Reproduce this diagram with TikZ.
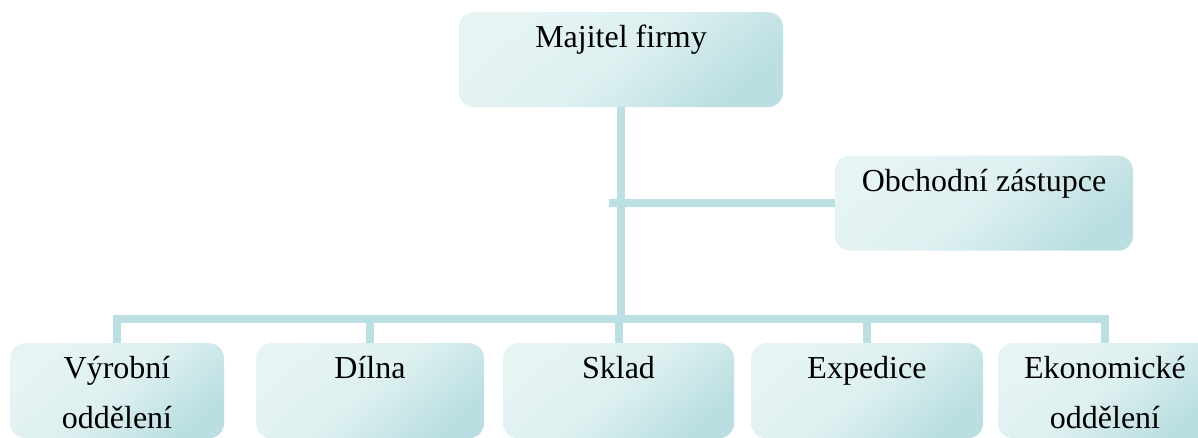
\documentclass[tikz,border=0pt]{standalone}
\usepackage{fontspec}
\setmainfont{Liberation Serif}
\definecolor{lineC}{HTML}{BBDFE2}
\definecolor{boxL}{HTML}{E6F4F4}
\definecolor{boxD}{HTML}{BADEE1}
\tikzset{
  orgbox/.style={rounded corners=15pt, top color=boxL, bottom color=boxD, middle color=boxL!80!boxD,
    shading angle=40, inner sep=0pt, minimum height=95pt, anchor=north},
  lab/.style={anchor=base, inner sep=0pt, align=center, font=\fontsize{32}{50}\selectfont},
  conn/.style={draw=lineC, line width=8pt, line join=miter}
}
\begin{document}
\begin{tikzpicture}[x=1pt,y=-1pt]
\useasboundingbox (0,0) rectangle (1198,438);
\clip (0,0) rectangle (1198,438);
% boxes
\node[orgbox, minimum width=324pt] (top) at (621,12) {};
\node[orgbox, minimum width=298pt] (obch) at (984,155.5) {};
\node[orgbox, minimum width=214pt] (c1) at (117,343) {};
\node[orgbox, minimum width=228pt] (c2) at (370,343) {};
\node[orgbox, minimum width=231pt] (c3) at (618.5,343) {};
\node[orgbox, minimum width=232pt] (c4) at (867,343) {};
\node[orgbox, minimum width=214pt] (c5) at (1105,343) {};
% connectors
\coordinate (bar) at (621,319);
\coordinate (side) at (609,203);
\draw[conn] (top.south) -- (bar);
\draw[conn] (side) -- (obch.west);
\draw[conn] (bar) -| (c1.north);
\draw[conn] (bar) -| (c2.north);
\draw[conn] (bar) -| (c3.north);
\draw[conn] (bar) -| (c4.north);
\draw[conn] (bar) -| (c5.north);
% labels
\node[lab] (ltop) at (621,48) {Majitel firmy};
\node[lab] (lobch) at (984,192) {Obchodní zástupce};
\node[lab] (l1) at (117,428) {Výrobní\\oddělení};
\node[lab] (l2) at (370,378) {Dílna};
\node[lab] (l3) at (618.5,378) {Sklad};
\node[lab] (l4) at (867,378) {Expedice};
\node[lab] (l5) at (1105,428) {Ekonomické\\oddělení};
\end{tikzpicture}
\end{document}
